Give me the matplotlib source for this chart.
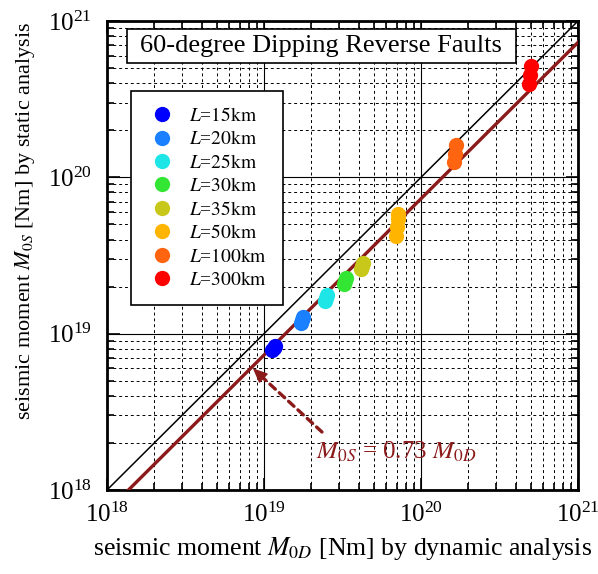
"""Static vs dynamic seismic moment for 60-degree dipping reverse faults."""

import numpy as np
from matplotlib import pyplot as plt
from matplotlib.patches import Rectangle
from matplotlib.ticker import LogLocator, NullFormatter

# Fault lengths and the colour used for each
lengths = ["15", "20", "25", "30", "35", "50", "100", "300"]
colors = ["#0000ff", "#1a80ff", "#1ee6e6", "#33e633",
          "#c8c81a", "#ffb400", "#ff6410", "#ff0000"]

# Seismic moments [Nm]: dynamic (x) and static (y), several runs per length
m0d = [
    [1.12e19, 1.15e19, 1.17e19],
    [1.73e19, 1.75e19, 1.77e19],
    [2.45e19, 2.48e19, 2.52e19],
    [3.25e19, 3.30e19, 3.35e19],
    [4.15e19, 4.20e19, 4.25e19],
    [6.95e19, 7.05e19, 7.15e19, 7.10e19],
    [1.62e20, 1.65e20, 1.68e20],
    [4.85e20, 4.95e20, 5.05e20],
]
m0s = [
    [7.9e18, 8.1e18, 8.3e18],
    [1.17e19, 1.22e19, 1.27e19],
    [1.62e19, 1.70e19, 1.78e19],
    [2.07e19, 2.17e19, 2.27e19],
    [2.60e19, 2.72e19, 2.85e19],
    [4.20e19, 4.80e19, 5.40e19, 5.85e19],
    [1.26e20, 1.42e20, 1.62e20],
    [3.95e20, 4.50e20, 5.15e20],
]

ratio = 0.73
ratio_label = r"$M_{0S}$ = 0.73 $M_{0D}$"
fit_color = "#8b1a1a"

# where the ratio label sits and the point on the fit line it refers to
label_pos = (2.15e19, 1.75e18)
arrow_tail = (2.34e19, 2.35e18)
arrow_tip = (8.5e18, 6.0e18)
head_base = (1.0e19, 5.15e18)

plt.rcParams["font.family"] = ["Liberation Serif", "DejaVu Serif"]
plt.rcParams["mathtext.fontset"] = "stix"

fig = plt.figure(figsize=(5.98, 5.74), dpi=100)
ax = fig.add_axes([107 / 598, 84 / 574, 471 / 598, 469 / 574])

ax.set_xscale("log")
ax.set_yscale("log")
ax.set_xlim(1e18, 1e21)
ax.set_ylim(1e18, 1e21)

# Grid: solid at decades, dashed in between
ax.xaxis.set_minor_locator(LogLocator(base=10, subs=np.arange(2, 10)))
ax.yaxis.set_minor_locator(LogLocator(base=10, subs=np.arange(2, 10)))
ax.xaxis.set_minor_formatter(NullFormatter())
ax.yaxis.set_minor_formatter(NullFormatter())
ax.grid(True, which="major", color="black", linewidth=0.8, linestyle="-")
ax.grid(True, which="minor", color="black", linewidth=0.7,
        linestyle=(0, (3, 3)))
ax.tick_params(which="both", direction="in", top=True, right=True,
               labelsize=18, width=1.2)
ax.tick_params(which="major", length=9)
ax.tick_params(which="minor", length=5)
ax.tick_params(axis="x", which="major", pad=9)
ax.tick_params(axis="y", which="major", pad=11)
for spine in ax.spines.values():
    spine.set_linewidth(2)

# 1:1 line and fitted ratio line
xx = np.array([1e17, 1e22])
ax.plot(xx, xx, color="black", linewidth=1.1, zorder=3)
ax.plot(xx, ratio * xx, color=fit_color, linewidth=2.4, zorder=3)

for L, c, xs, ys in zip(lengths, colors, m0d, m0s):
    ax.plot(xs, ys, linestyle="none", marker="o", markersize=11,
            color=c, markeredgewidth=0, zorder=4)
    ax.plot([], [], linestyle="none", marker="o", markersize=11, color=c,
            markeredgewidth=0, label=rf"$L$=$\mathrm{{{L}km}}$")

# ratio label with a dashed arrow pointing at the fit line
ax.text(*label_pos, ratio_label, color=fit_color, fontsize=18,
        va="center", ha="left", zorder=5)
ax.annotate("", xy=head_base, xytext=arrow_tail,
            arrowprops=dict(arrowstyle="-", color=fit_color,
                            linestyle=(0, (2.2, 1.6)), linewidth=2.4,
                            shrinkA=0, shrinkB=0), zorder=5)
ax.annotate("", xy=arrow_tip, xytext=head_base,
            arrowprops=dict(arrowstyle="-|>,head_length=0.9,head_width=0.4",
                            color=fit_color, linewidth=1,
                            shrinkA=0, shrinkB=0), zorder=5)

leg = ax.legend(loc="upper left", bbox_to_anchor=(0.051, 0.85),
                borderaxespad=0, fontsize=14, fancybox=False,
                edgecolor="black", framealpha=1, labelspacing=0.28,
                handletextpad=0.6, borderpad=0.8, handlelength=1.6)
leg.get_frame().set_linewidth(1.2)
leg.set_zorder(6)

# boxed panel title
ax.add_patch(Rectangle((0.0425, 0.910), 0.8255, 0.073,
                       transform=ax.transAxes, facecolor="white",
                       edgecolor="black", linewidth=1.2, zorder=6))
ax.text(0.455, 0.946, "60-degree Dipping Reverse Faults",
        transform=ax.transAxes, ha="center", va="center", fontsize=19,
        zorder=7)

ax.set_xlabel(r"seismic moment $M_{0D}$ [Nm] by dynamic analysis",
              fontsize=18.5, labelpad=6)
ax.set_ylabel(r"seismic moment $M_{0S}$ [Nm] by static analysis",
              fontsize=16)
ax.yaxis.set_label_coords(-0.149, 0.574)

fig.savefig("out.png", dpi=100)
